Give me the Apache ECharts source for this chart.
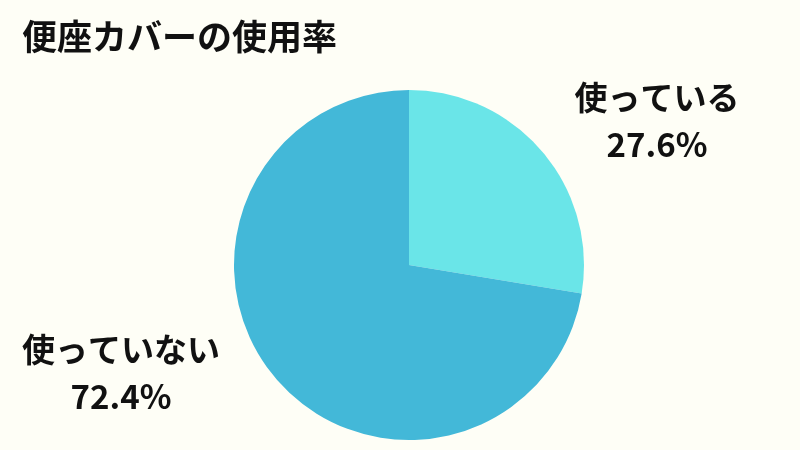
<!DOCTYPE html>
<html>
<head>
<meta charset="utf-8">
<script src="https://cdn.jsdelivr.net/npm/echarts@6/dist/echarts.min.js"></script>
<style>
html,body{margin:0;padding:0;background:#fefef6;}
#chart{width:800px;height:450px;}
</style>
</head>
<body>
<div id="chart"></div>
<script>
const titleText = '便座カバーの使用率';
const categories = ['使っている', '使っていない'];
const values = [27.6, 72.4];
const colors = ['#6ae5e8', '#43b8d8'];
const labelPos = [[657, 121], [121, 373]];

const chart = echarts.init(document.getElementById('chart'));
chart.setOption({
  backgroundColor: '#fefef6',
  animation: false,
  title: {
    text: titleText,
    left: 17,
    top: 14,
    textStyle: {
      fontFamily: '"Noto Sans CJK JP", sans-serif',
      fontSize: 35,
      fontWeight: 'bold',
      color: '#111'
    }
  },
  series: [{
    type: 'pie',
    center: [409, 265],
    radius: [0, 175],
    startAngle: 90,
    clockwise: true,
    data: categories.map((c, i) => ({
      name: c,
      value: values[i],
      itemStyle: { color: colors[i] }
    })),
    label: {
      show: true,
      position: 'outside',
      formatter: p => p.name + '\n' + p.value.toFixed(1) + '%',
      fontFamily: '"Noto Sans CJK JP", sans-serif',
      fontSize: 33,
      fontWeight: 'bold',
      lineHeight: 47,
      color: '#111',
      align: 'center'
    },
    labelLine: { show: false },
    labelLayout: function (params) {
      const p = labelPos[params.dataIndex];
      return { x: p[0], y: p[1], align: 'center', verticalAlign: 'middle' };
    },
    emphasis: { disabled: true }
  }]
});
</script>
</body>
</html>
